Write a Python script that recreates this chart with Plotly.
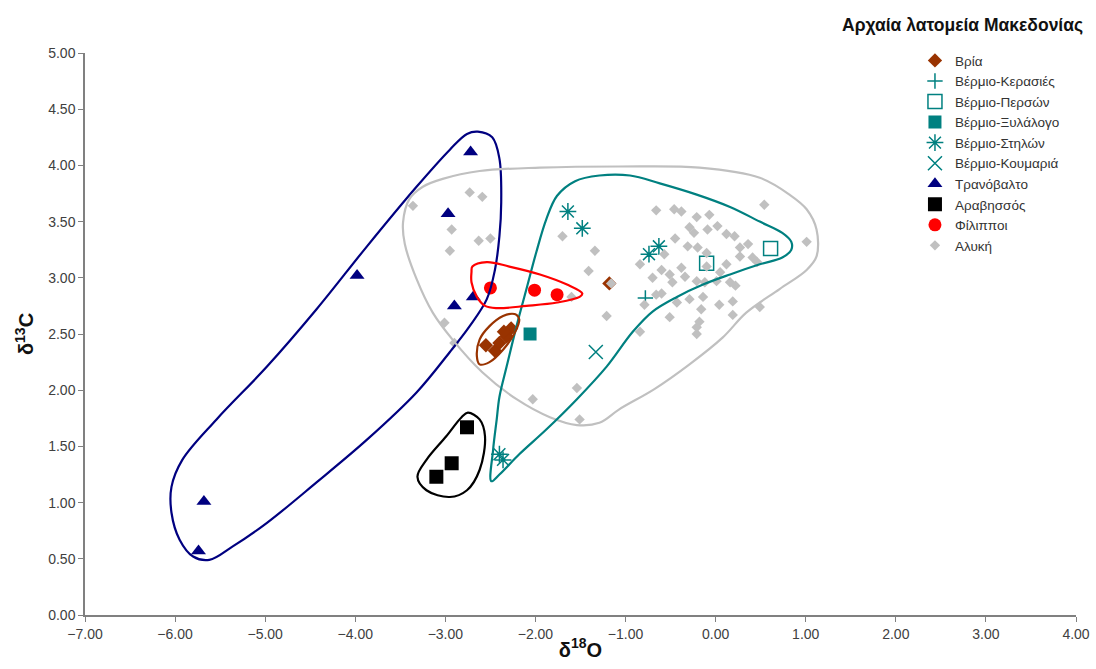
import plotly.graph_objects as go

# ---------------- data ----------------
vria_x = [-2.55, -2.45, -2.40, -2.32, -2.27, -2.35, -1.18]
vria_y = [2.40, 2.35, 2.42, 2.48, 2.55, 2.52, 2.95]

kerasies_x = [-0.78]
kerasies_y = [2.82]

person_x = [-0.10, 0.61]
person_y = [3.13, 3.26]

xylalogo_x = [-2.06]
xylalogo_y = [2.50]

stilon_x = [-1.64, -1.48, -0.74, -0.63, -2.40, -2.36]
stilon_y = [3.59, 3.44, 3.21, 3.28, 1.43, 1.38]

koumaria_x = [-1.33]
koumaria_y = [2.34]

tranovalto_x = [-2.72, -2.97, -3.98, -2.90, -2.69, -5.68, -5.74]
tranovalto_y = [4.12, 3.57, 3.02, 2.75, 2.83, 1.01, 0.57]

aravissos_x = [-2.76, -2.93, -3.10]
aravissos_y = [1.67, 1.35, 1.23]

filippoi_x = [-2.50, -2.01, -1.76]
filippoi_y = [2.91, 2.89, 2.85]

alyki_x = [-3.36, -2.73, -2.59, -2.93, -2.95, -2.63, -2.50, -1.70, -1.34, -1.41,
           -1.60, -1.21, -3.01, -2.90, -1.54, -2.03, -1.51, -1.16,
           -0.66, -0.46, -0.38, -0.21, -0.07, 0.54, -0.29, -0.09, 0.02, 0.12,
           0.21, -0.31, -0.20, -0.57, -0.84, -0.60, -0.51, -0.38, -0.34, -0.48,
           -0.21, -0.10, -0.12, 0.01, 0.12, 0.27, 0.36, 0.27, 0.41, 0.46,
           0.16, 0.22, -0.66, -0.79, -0.60, -0.29, -0.14, -0.16, 0.04, 0.19,
           -0.51, -0.18, 0.19, 0.49, -0.84, -0.21, -0.21, 1.01, -0.24, -0.45,
           -0.10, 0.05, -0.70, -0.43]
alyki_y = [3.64, 3.76, 3.72, 3.43, 3.24, 3.33, 3.35, 3.37, 3.24, 3.06,
           2.83, 2.66, 2.60, 2.42, 2.02, 1.92, 1.74, 2.95,
           3.60, 3.61, 3.59, 3.54, 3.56, 3.65, 3.45, 3.43, 3.46, 3.39,
           3.37, 3.28, 3.27, 3.21, 3.12, 3.07, 3.03, 3.09, 3.01, 2.96,
           2.97, 3.10, 2.96, 2.97, 3.12, 3.27, 3.30, 3.19, 3.18, 3.14,
           2.96, 2.93, 2.85, 2.76, 2.86, 2.81, 2.83, 2.72, 2.76, 2.79,
           2.65, 2.61, 2.67, 2.74, 2.52, 2.56, 2.50, 3.32, 3.40, 3.35,
           3.22, 3.05, 3.00, 2.78]

# group outlines (hand-drawn envelopes)
tranovalto_env_x = [-2.64, -2.48, -2.40, -2.38, -2.40, -2.45, -2.54, -2.73, -2.95, -3.32,
                    -3.87, -4.43, -4.98, -5.36, -5.62, -5.80, -5.95, -6.04, -6.04, -5.92,
                    -5.54, -4.98, -4.43, -3.87, -3.32, -2.95, -2.76, -2.64]
tranovalto_env_y = [4.30, 4.25, 4.06, 3.67, 3.37, 3.07, 2.81, 2.57, 2.34, 1.98,
                    1.56, 1.18, 0.82, 0.61, 0.49, 0.52, 0.67, 0.91, 1.14, 1.38,
                    1.74, 2.21, 2.72, 3.28, 3.81, 4.14, 4.28, 4.30]

alyki_env_x = [-3.03, -2.62, -1.95, -1.07, -0.18, 0.49, 0.82, 1.01, 1.12, 1.12,
               1.01, 0.71, 0.34, 0.08, -0.29, -0.68, -1.07, -1.29, -1.54, -1.84,
               -2.21, -2.59, -2.92, -3.14, -3.32, -3.45, -3.47, -3.40, -3.25, -3.03]
alyki_env_y = [3.88, 3.95, 3.98, 3.99, 3.98, 3.89, 3.74, 3.61, 3.43, 3.19,
               3.07, 2.90, 2.69, 2.47, 2.23, 2.01, 1.83, 1.71, 1.69, 1.76,
               1.92, 2.16, 2.45, 2.69, 2.99, 3.30, 3.49, 3.70, 3.81, 3.88]

vermio_env_x = [-2.49, -2.47, -2.43, -2.40, -2.32, -2.21, -2.10, -1.99, -1.88, -1.76,
                -1.56, -1.29, -0.95, -0.62, -0.21, 0.16, 0.49, 0.74, 0.84, 0.84,
                0.74, 0.49, 0.16, -0.14, -0.43, -0.70, -0.92, -1.21, -1.54, -1.88,
                -2.18, -2.40, -2.49]
vermio_env_y = [1.19, 1.47, 1.74, 1.94, 2.21, 2.57, 2.90, 3.23, 3.52, 3.73,
                3.86, 3.91, 3.91, 3.84, 3.74, 3.63, 3.50, 3.40, 3.32, 3.25,
                3.18, 3.12, 3.03, 2.94, 2.83, 2.70, 2.52, 2.21, 1.92, 1.65,
                1.43, 1.25, 1.19]

filippoi_env_x = [-2.70, -2.54, -2.29, -1.95, -1.65, -1.48, -1.51, -1.76, -2.10, -2.43,
                  -2.56, -2.65, -2.71, -2.71, -2.70]
filippoi_env_y = [3.10, 3.14, 3.10, 3.03, 2.94, 2.86, 2.83, 2.78, 2.75, 2.73,
                  2.75, 2.83, 2.96, 3.05, 3.10]

vria_env_x = [-2.21, -2.18, -2.23, -2.36, -2.51, -2.62, -2.65, -2.62, -2.51, -2.36, -2.26, -2.21]
vria_env_y = [2.67, 2.63, 2.51, 2.36, 2.25, 2.23, 2.30, 2.45, 2.57, 2.66, 2.68, 2.67]

aravissos_env_x = [-2.75, -2.62, -2.56, -2.62, -2.76, -2.95, -3.21, -3.31, -3.21, -2.99, -2.82, -2.75]
aravissos_env_y = [1.80, 1.74, 1.59, 1.29, 1.11, 1.05, 1.11, 1.23, 1.38, 1.59, 1.76, 1.80]

x_ticks = [-7, -6, -5, -4, -3, -2, -1, 0, 1, 2, 3, 4]
y_ticks = [0, 0.5, 1, 1.5, 2, 2.5, 3, 3.5, 4, 4.5, 5]

# ---------------- styling ----------------
BROWN = "#993300"
TEAL = "#008080"
NAVY = "#000080"
GRAY = "#C0C0C0"

fig = go.Figure()

series = [
    ("Βρία", vria_x, vria_y, dict(symbol="diamond", size=11, color=BROWN)),
    ("Βέρμιο-Κερασιές", kerasies_x, kerasies_y,
     dict(symbol="cross-thin-open", size=11, color=TEAL, line=dict(color=TEAL, width=1.5))),
    ("Βέρμιο-Περσών", person_x, person_y,
     dict(symbol="square-open", size=14, color=TEAL, line=dict(color=TEAL, width=1.5))),
    ("Βέρμιο-Ξυλάλογο", xylalogo_x, xylalogo_y, dict(symbol="square", size=13, color=TEAL)),
    ("Βέρμιο-Στηλών", stilon_x, stilon_y,
     dict(symbol="asterisk-open", size=14, color=TEAL, line=dict(color=TEAL, width=1.5))),
    ("Βέρμιο-Κουμαριά", koumaria_x, koumaria_y,
     dict(symbol="x-thin-open", size=14, color=TEAL, line=dict(color=TEAL, width=1.5))),
    ("Τρανόβαλτο", tranovalto_x, tranovalto_y, dict(symbol="triangle-up", size=13, color=NAVY)),
    ("Αραβησσός", aravissos_x, aravissos_y, dict(symbol="square", size=14, color="black")),
    ("Φίλιπποι", filippoi_x, filippoi_y, dict(symbol="circle", size=13, color="#FF0000")),
    ("Αλυκή", alyki_x, alyki_y, dict(symbol="diamond", size=8, color=GRAY)),
]

for name, xs, ys, mk in series:
    fig.add_trace(go.Scatter(x=xs, y=ys, mode="markers", name=name, marker=mk))

envelopes = [
    (tranovalto_env_x, tranovalto_env_y, NAVY),
    (alyki_env_x, alyki_env_y, "#C0C0C0"),
    (vermio_env_x, vermio_env_y, TEAL),
    (filippoi_env_x, filippoi_env_y, "#FF0000"),
    (vria_env_x, vria_env_y, BROWN),
    (aravissos_env_x, aravissos_env_y, "black"),
]
for ex, ey, col in envelopes:
    fig.add_trace(go.Scatter(x=ex, y=ey, mode="lines", showlegend=False, hoverinfo="skip",
                             line=dict(color=col, width=2.2, shape="spline", smoothing=1.0)))

FONT = "Liberation Sans, Arial, sans-serif"

fig.update_layout(
    width=1096, height=669,
    margin=dict(l=85, r=20, t=53, b=54),
    paper_bgcolor="white", plot_bgcolor="white",
    font=dict(family=FONT, size=14, color="#404040"),
    showlegend=True,
    legend=dict(x=0.8375, y=1.014, xanchor="left", yanchor="top",
                font=dict(family=FONT, size=13.5, color="#333333"),
                bgcolor="rgba(0,0,0,0)", tracegroupgap=0, itemwidth=30),
    xaxis=dict(range=[-7, 4], tickvals=x_ticks, tickformat=".2f", automargin=False,
               ticklabeloverflow="allow",
               showgrid=False, zeroline=False, showline=True, linecolor="#808080",
               linewidth=1.5, ticks="outside", ticklen=5, tickcolor="#808080",
               tickfont=dict(size=14, color="#404040"),
               title=dict(text="<b>δ<sup>18</sup>O</b>", font=dict(size=20, color="#111111"),
                          standoff=2)),
    yaxis=dict(range=[0, 5], tickvals=y_ticks, tickformat=".2f", automargin=False,
               showgrid=False, zeroline=False, showline=True, linecolor="#808080",
               linewidth=1.5, ticks="outside", ticklen=5, tickcolor="#808080",
               tickfont=dict(size=14, color="#404040"),
               title=dict(text="<b>δ<sup>13</sup>C</b>", font=dict(size=20, color="#111111"),
                          standoff=9)),
    annotations=[dict(text="<b>Αρχαία λατομεία Μακεδονίας</b>", xref="paper", yref="paper",
                      x=1.009, y=1.0498, xanchor="right", yanchor="middle",
                      showarrow=False, font=dict(family=FONT, size=17.5, color="#111111"))],
)

fig.write_html("out.html", config={"displayModeBar": False},
               post_script="document.body.style.margin='0';")
